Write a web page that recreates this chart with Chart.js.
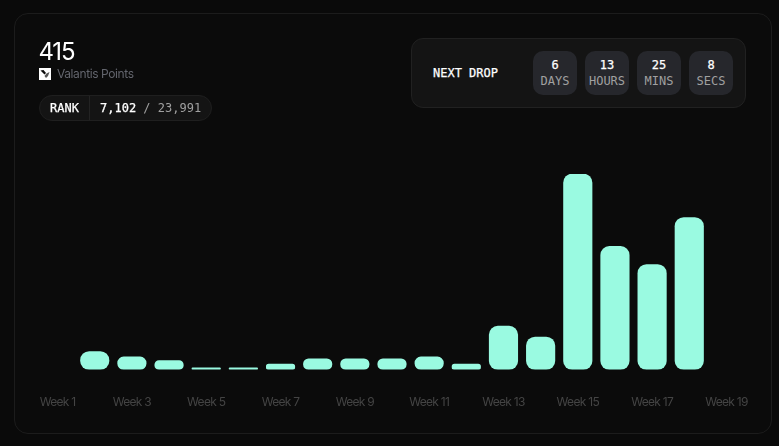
<!DOCTYPE html>
<html lang="en">
<head>
<meta charset="utf-8">
<title>Valantis Points</title>
<script src="https://cdn.jsdelivr.net/npm/chart.js@4"></script>
<style>
  html, body { margin: 0; height: 100%; background: #0a0a0a; overflow: hidden; }
  body { position: relative; width: 779px; height: 446px; font-family: Inter, sans-serif; color: #fff; }
  .card { position: absolute; left: 14px; top: 13px; width: 756px; height: 419px; background: #0b0b0b; border: 1px solid #1c1c1c; border-radius: 14px; }
  canvas { position: absolute; left: 0; top: 0; }
  .mono { font-family: "DejaVu Sans Mono", monospace; font-size: 12px; }
  .strong { font-weight: 400; -webkit-text-stroke: 0.25px #fff; }
  .total { position: absolute; left: 38.5px; top: 37px; font-size: 24px; line-height: 29px; letter-spacing: -1.2px; }
  .points { position: absolute; left: 57px; top: 66px; font-size: 12px; line-height: 15px; letter-spacing: -0.4px; color: #63656d; }
  .icon { position: absolute; left: 39px; top: 68px; width: 12px; height: 12px; }
  .rank { position: absolute; left: 39px; top: 95px; width: 171px; height: 24px; background: #141414; border: 1px solid #1f1f1f; border-radius: 13px; line-height: 24px; }
  .rank span { position: absolute; top: 0; }
  .rank .sep { left: 49px; width: 1px; height: 24px; background: #232323; }
  .rank .of { color: #a0a0a0; }
  .drop { position: absolute; left: 411px; top: 38px; width: 333px; height: 68px; background: #141414; border: 1px solid #212121; border-radius: 12px; }
  .drop .title { position: absolute; left: 21px; top: 27px; line-height: 15px; }
  .box { position: absolute; top: 12px; width: 44px; height: 44px; background: #26272c; border-radius: 10px; text-align: center; line-height: 16px; }
  .box b { display: block; margin-top: 6px; }
  .box i { display: block; font-style: normal; color: #a0a0a0; }
</style>
</head>
<body>
<div class="card"></div>
<canvas id="chartSemanas" width="779" height="446"></canvas>

<div class="total">415</div>
<svg class="icon" viewBox="0 0 12 12"><rect width="12" height="12" fill="#fff"/><path d="M1.5 2.5 L4.5 2 L7 5 L5.5 6.5 Z" fill="#0b0b0b"/><path d="M5.5 8 L7.5 5.5 L10.5 4 L9 8 L7 10 Z" fill="#555"/></svg>
<div class="points">Valantis Points</div>

<div class="rank mono">
  <span class="strong" style="left:10px">RANK</span>
  <span class="sep"></span>
  <span style="left:60px"><span class="strong" style="position:static">7,102</span> <span class="of" style="position:static">/ 23,991</span></span>
</div>

<div class="drop mono">
  <div class="title strong">NEXT DROP</div>
  <div class="box" style="left:121px"><b class="strong">6</b><i>DAYS</i></div>
  <div class="box" style="left:173px"><b class="strong">13</b><i>HOURS</i></div>
  <div class="box" style="left:225px"><b class="strong">25</b><i>MINS</i></div>
  <div class="box" style="left:277px"><b class="strong">8</b><i>SECS</i></div>
</div>

<script>
// ── DATA ─────────────────────────────────────────────
const weeks = ['Week 1', 'Week 2', 'Week 3', 'Week 4', 'Week 5', 'Week 6', 'Week 7', 'Week 8', 'Week 9', 'Week 10',
  'Week 11', 'Week 12', 'Week 13', 'Week 14', 'Week 15', 'Week 16', 'Week 17', 'Week 18', 'Week 19'];
const points = [null, 10, 7, 5, 1, 1, 3, 6, 6, 6, 7, 3, 24, 18, 108, 68, 58, 84, null];

// ── TIGHTER TICK LABELS ──────────────────────────────
const tightLabels = {
  id: 'tightLabels',
  beforeDraw(chart) { chart.ctx.letterSpacing = '-0.7px'; }
};

// ── CHART ────────────────────────────────────────────
new Chart(document.getElementById('chartSemanas').getContext('2d'), {
  type: 'bar',
  data: {
    labels: weeks,
    datasets: [{
      data: points,
      backgroundColor: '#9afae1',
      barThickness: 28.5,
      borderRadius: 9,
      borderSkipped: false
    }]
  },
  options: {
    responsive: false,
    animation: false,
    layout: { padding: { left: 39, right: 34, top: 174, bottom: 18 } },
    plugins: { legend: { display: false }, tooltip: { enabled: false } },
    scales: {
      y: { display: false, min: 0, max: 108 },
      x: {
        grid: { display: false },
        border: { display: false },
        ticks: {
          autoSkip: false,
          maxRotation: 0,
          padding: 18,
          color: '#444444',
          font: { family: 'Inter', size: 12 },
          callback: (value, i) => (i % 2 === 0 ? weeks[i] : '')
        }
      }
    }
  },
  plugins: [tightLabels]
});
</script>
</body>
</html>
